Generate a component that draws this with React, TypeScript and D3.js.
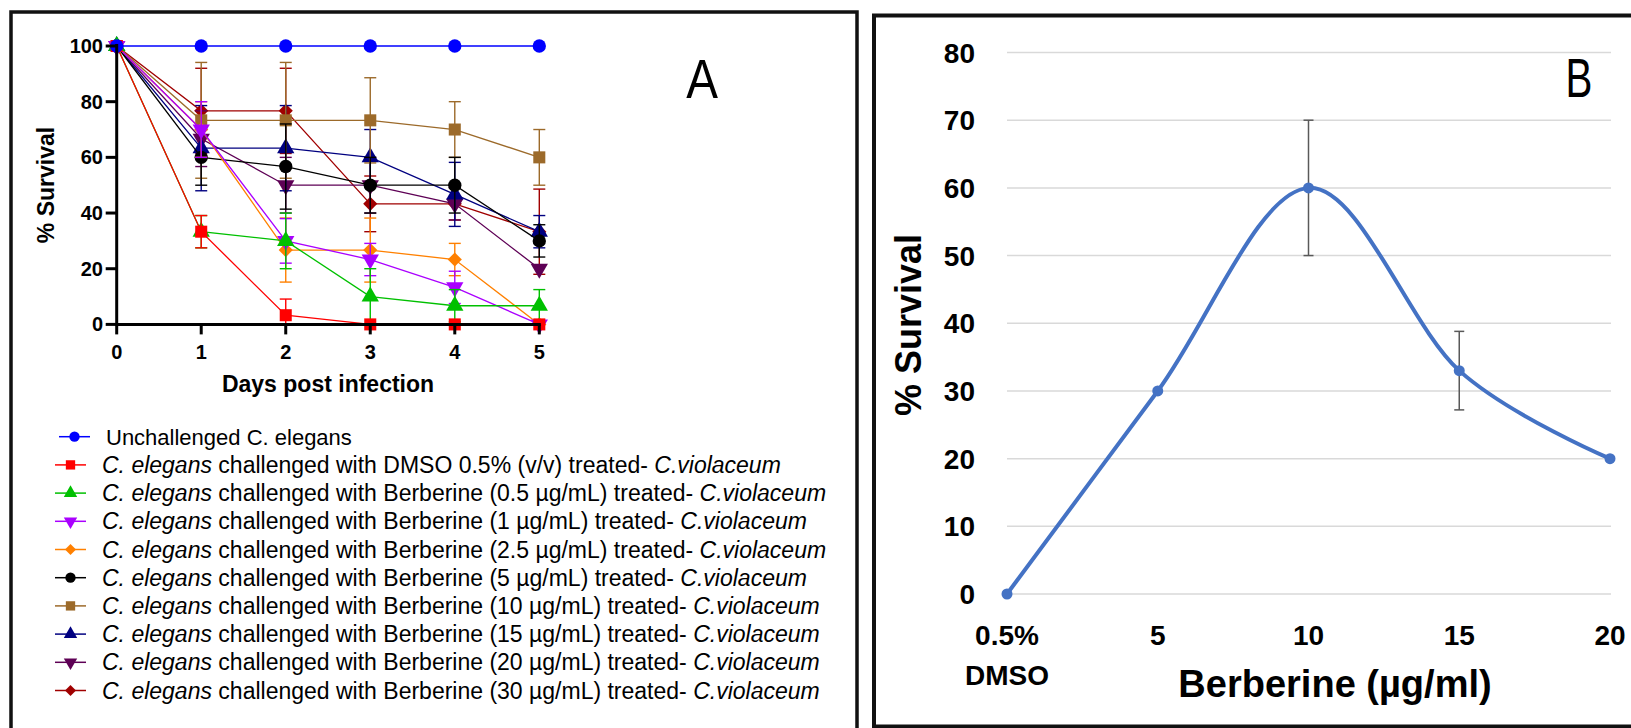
import React, { useEffect } from 'react';
import * as d3 from 'd3';

// ---- panel A: survival over days ----
const days = [0, 1, 2, 3, 4, 5];
const survivalTicks = [0, 20, 40, 60, 80, 100];

const unchallenged = [100, 100, 100, 100, 100, 100];
const unchallengedSd = [0, 0, 0, 0, 0, 0];
const dmso = [100, 33.3, 3.3, 0, 0, 0];
const dmsoSd = [0, 5.8, 5.8, 0, 0, 0];
const ber05 = [100, 33.3, 30, 10, 6.7, 6.7];
const ber05Sd = [0, 5.8, 10, 10, 5.8, 5.8];
const ber1 = [100, 70, 30, 23.3, 13.3, 0];
const ber1Sd = [0, 10, 8, 5.8, 5.8, 0];
const ber25 = [100, 70, 26.7, 26.7, 23.3, 0];
const ber25Sd = [0, 10, 11.5, 11.5, 5.8, 0];
const ber5 = [100, 60, 56.7, 50, 50, 30];
const ber5Sd = [0, 10, 15.3, 10, 10, 5.8];
const ber10 = [100, 73.3, 73.3, 73.3, 70, 60];
const ber10Sd = [0, 20.8, 20.8, 15.3, 10, 10];
const ber15 = [100, 63.3, 63.3, 60, 46.7, 33.3];
const ber15Sd = [0, 15.3, 15.3, 10, 11.5, 5.8];
const ber20 = [100, 66.7, 50, 50, 43.3, 20];
const ber20Sd = [0, 10, 10, 10, 5.8, 0];
const ber30 = [100, 76.7, 76.7, 43.3, 43.3, 33.3];
const ber30Sd = [0, 15.3, 15.3, 10, 5.8, 15.3];

const treatments = [
  'DMSO 0.5% (v/v)',
  'Berberine (0.5 µg/mL)',
  'Berberine (1 µg/mL)',
  'Berberine (2.5 µg/mL)',
  'Berberine (5 µg/mL)',
  'Berberine (10 µg/mL)',
  'Berberine (15 µg/mL)',
  'Berberine (20 µg/mL)',
  'Berberine (30 µg/mL)',
];

const seriesValues = [unchallenged, dmso, ber05, ber1, ber25, ber5, ber10, ber15, ber20, ber30];
const seriesSd = [unchallengedSd, dmsoSd, ber05Sd, ber1Sd, ber25Sd, ber5Sd, ber10Sd, ber15Sd, ber20Sd, ber30Sd];
const seriesColors = ['#0000ff', '#ff0000', '#00c000', '#aa00ff', '#ff8000', '#000000', '#9c6a2a', '#000080', '#5e0055', '#a00000'];
const seriesShapes = ['circle', 'square', 'triangle', 'down', 'diamond', 'circle', 'square', 'triangle', 'down', 'diamond'];

// ---- panel B: survival vs dose ----
const doseLabels = [['0.5%', 'DMSO'], ['5'], ['10'], ['15'], ['20']];
const doseSurvival = [0, 30, 60, 33, 20];
const doseSd = [0, 0, 10, 5.8, 0];
const doseTicks = [0, 10, 20, 30, 40, 50, 60, 70, 80];

const font = 'Liberation Sans, Arial, sans-serif';

const symbolSize = { circle: 140, square: 145, triangle: 130, down: 130, diamond: 100 };

const Marker = ({ shape, x, y, color, scale = 1 }) => {
  const type = shape === 'circle' ? d3.symbolCircle : shape === 'triangle' || shape === 'down' ? d3.symbolTriangle : d3.symbolSquare;
  const rot = shape === 'down' ? 180 : shape === 'diamond' ? 45 : 0;
  const d = d3.symbol(type, symbolSize[shape] * scale)();
  return <path d={d} transform={`translate(${x},${y}) rotate(${rot})`} fill={color} />;
};

const App = () => {
  useEffect(() => {
    document.body.style.margin = '0';
    document.body.style.overflow = 'hidden';
  }, []);

  const xA = d3.scaleLinear().domain([0, 5]).range([116.7, 539.3]);
  const yA = d3.scaleLinear().domain([0, 100]).range([324.4, 46]);
  const lineA = d3.line().x((d) => xA(d[0])).y((d) => yA(d[1]));

  const xB = d3.scalePoint().domain(doseLabels.map((d) => d[0])).range([1007, 1610]);
  const yB = d3.scaleLinear().domain([0, 80]).range([594, 52.5]);
  const lineB = d3
    .line()
    .x((d) => xB(d[0]))
    .y((d) => yB(d[1]))
    .curve(d3.curveCardinal.tension(0));

  // last legend entry drawn first, so DMSO and the control end up on top
  const order = d3.range(seriesValues.length).reverse();

  return (
    <svg width={1631} height={728} style={{ display: 'block', background: '#fff' }} fontFamily={font}>
      {/* panel frames */}
      <rect x={11} y={12} width={846} height={760} fill="none" stroke="#111" strokeWidth={3.5} />
      <rect x={874} y={15.5} width={800} height={711} fill="none" stroke="#111" strokeWidth={4} />

      {/* ---------- panel A ---------- */}
      <g>
        {order.map((s) => {
          const vals = seriesValues[s];
          const sd = seriesSd[s];
          const color = seriesColors[s];
          return (
            <g key={s}>
              {days.map((d, i) =>
                sd[i] > 0 ? (
                  <g key={i} stroke={color} strokeWidth={1.4}>
                    <line x1={xA(d)} x2={xA(d)} y1={yA(Math.max(0, vals[i] - sd[i]))} y2={yA(vals[i] + sd[i])} />
                    <line x1={xA(d) - 6} x2={xA(d) + 6} y1={yA(vals[i] + sd[i])} y2={yA(vals[i] + sd[i])} />
                    {vals[i] - sd[i] >= 0 && (
                      <line x1={xA(d) - 6} x2={xA(d) + 6} y1={yA(vals[i] - sd[i])} y2={yA(vals[i] - sd[i])} />
                    )}
                  </g>
                ) : null
              )}
              <path d={lineA(days.map((d, i) => [d, vals[i]]))} fill="none" stroke={color} strokeWidth={1.3} />
              {days.map((d, i) => (
                <Marker key={i} shape={seriesShapes[s]} x={xA(d)} y={yA(vals[i])} color={color} />
              ))}
            </g>
          );
        })}

        {/* axes */}
        <line x1={xA(0)} x2={xA(0)} y1={yA(0) + 1.5} y2={yA(100) - 2} stroke="#000" strokeWidth={3} />
        <line x1={xA(0) - 1.5} x2={xA(5) + 1.5} y1={yA(0)} y2={yA(0)} stroke="#000" strokeWidth={3} />
        {survivalTicks.map((t) => (
          <g key={t}>
            <line x1={xA(0) - 11} x2={xA(0)} y1={yA(t)} y2={yA(t)} stroke="#000" strokeWidth={3} />
            <text x={103} y={yA(t) + 7} textAnchor="end" fontSize={20} fontWeight="bold">
              {t}
            </text>
          </g>
        ))}
        {days.map((t) => (
          <g key={t}>
            <line x1={xA(t)} x2={xA(t)} y1={yA(0)} y2={yA(0) + 10} stroke="#000" strokeWidth={3} />
            <text x={xA(t)} y={359} textAnchor="middle" fontSize={20} fontWeight="bold">
              {t}
            </text>
          </g>
        ))}
        <text x={328} y={392} textAnchor="middle" fontSize={23} fontWeight="bold">
          Days post infection
        </text>
        <text transform="translate(54,185) rotate(-90)" textAnchor="middle" fontSize={23} fontWeight="bold">
          % Survival
        </text>
        <text transform="translate(702,98) scale(0.85,1)" textAnchor="middle" fontSize={56}>
          A
        </text>

        {/* legend */}
        {seriesValues.map((_, i) => {
          const y = 436.7 + i * 28.2;
          const x0 = i === 0 ? 59 : 55;
          const tx = i === 0 ? 106 : 102;
          return (
            <g key={i}>
              <line x1={x0} x2={x0 + 31} y1={y} y2={y} stroke={seriesColors[i]} strokeWidth={1.5} />
              <Marker shape={seriesShapes[i]} x={x0 + 15.5} y={y} color={seriesColors[i]} scale={0.6} />
              <text x={tx} y={y + 8} fontSize={i === 0 ? 22 : 23}>
                {i === 0 ? (
                  'Unchallenged C. elegans'
                ) : (
                  <>
                    <tspan fontStyle="italic">C. elegans</tspan>
                    <tspan>{` challenged with ${treatments[i - 1]} treated- `}</tspan>
                    <tspan fontStyle="italic">C.violaceum</tspan>
                  </>
                )}
              </text>
            </g>
          );
        })}
      </g>

      {/* ---------- panel B ---------- */}
      <g>
        {doseTicks.map((t) => (
          <g key={t}>
            <line x1={1007} x2={1611} y1={yB(t)} y2={yB(t)} stroke="#d9d9d9" strokeWidth={1.5} />
            <text x={975} y={yB(t) + 10} textAnchor="end" fontSize={28} fontWeight="bold">
              {t}
            </text>
          </g>
        ))}
        {doseLabels.map((lab) => (
          <text key={lab[0]} x={xB(lab[0])} y={645} textAnchor="middle" fontSize={28} fontWeight="bold">
            {lab.map((l, j) => (
              <tspan key={j} x={xB(lab[0])} dy={j === 0 ? 0 : 40}>
                {l}
              </tspan>
            ))}
          </text>
        ))}
        <path
          d={lineB(doseLabels.map((lab, i) => [lab[0], doseSurvival[i]]))}
          fill="none"
          stroke="#4472c4"
          strokeWidth={4}
          strokeLinecap="round"
        />
        {doseLabels.map((lab, i) =>
          doseSd[i] > 0 ? (
            <g key={i} stroke="#595959" strokeWidth={1.5}>
              <line x1={xB(lab[0])} x2={xB(lab[0])} y1={yB(doseSurvival[i] - doseSd[i])} y2={yB(doseSurvival[i] + doseSd[i])} />
              <line x1={xB(lab[0]) - 5} x2={xB(lab[0]) + 5} y1={yB(doseSurvival[i] + doseSd[i])} y2={yB(doseSurvival[i] + doseSd[i])} />
              <line x1={xB(lab[0]) - 5} x2={xB(lab[0]) + 5} y1={yB(doseSurvival[i] - doseSd[i])} y2={yB(doseSurvival[i] - doseSd[i])} />
            </g>
          ) : null
        )}
        {doseLabels.map((lab, i) => (
          <circle key={i} cx={xB(lab[0])} cy={yB(doseSurvival[i])} r={5.5} fill="#4472c4" />
        ))}
        <text x={1335} y={697} textAnchor="middle" fontSize={38} fontWeight="bold">
          Berberine (µg/ml)
        </text>
        <text transform="translate(921,325) rotate(-90)" textAnchor="middle" fontSize={36} fontWeight="bold">
          % Survival
        </text>
        <text transform="translate(1579,97) scale(0.72,1)" textAnchor="middle" fontSize={56}>
          B
        </text>
      </g>
    </svg>
  );
};

export default App;
